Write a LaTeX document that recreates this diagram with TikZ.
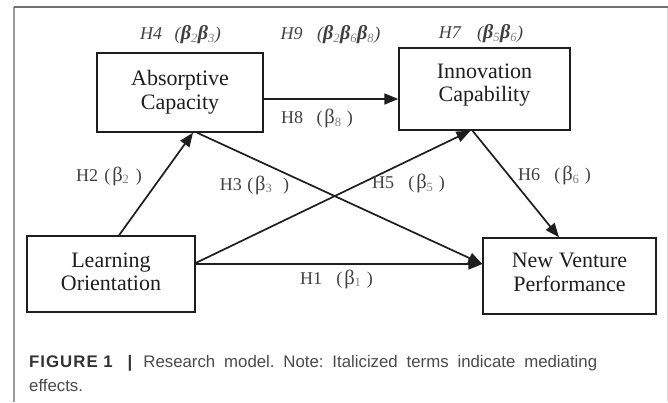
\documentclass[tikz,border=0pt]{standalone}
\usepackage{fontspec}
\setmainfont{Liberation Serif}
\newfontfamily\capfont{Liberation Sans}
\newfontfamily\capbold[LetterSpace=6]{Liberation Sans Bold}
\usetikzlibrary{arrows.meta}
\definecolor{framedark}{HTML}{707070}
\definecolor{frameleft}{HTML}{9A9A9A}
\definecolor{frameright}{HTML}{DDDDDD}
\definecolor{captxt}{HTML}{4A4A4A}
\definecolor{ink}{HTML}{1E1E1E}
\tikzset{
  box/.style={draw=ink, line width=1.4pt, inner sep=0pt},
  boxtext/.style={align=center, font=\fontsize{22}{23.5}\selectfont, text=ink, inner sep=0pt},
  arr/.style={draw=ink, line width=1.7pt, -{Triangle[length=14pt,width=11pt]}},
  lbl/.style={font=\fontsize{18}{20}\selectfont, text=ink!85, inner sep=0pt},
  ilbl/.style={font=\fontsize{18}{20}\selectfont\itshape, text=ink!85, inner sep=0pt},
  captext/.style={font=\capfont\fontsize{16.8}{18}\selectfont, text=captxt, inner sep=0pt, anchor=base west}
}
\newcommand{\sbs}[1]{\textsubscript{\color{ink!55}#1}}
\newcommand{\bt}{{\fontsize{20.5}{20}\selectfont β}}
\newcommand{\bbt}{{\fontsize{20}{20}\selectfont\bfseries β}}
% #1 number, #2 gap before paren, #3 subscript, #4 gap before closing paren
\newcommand{\lab}[4]{H#1\hspace{#2}(\hspace{0.1em}\bt\sbs{#3}\hspace{#4})}
\begin{document}
\begin{tikzpicture}[x=1pt,y=-1pt]
\useasboundingbox (0,0) rectangle (668,402);
\fill[white] (0,0) rectangle (668,402);
% frame
\draw[frameright, line width=1pt] (667,7) -- (667,402);
\draw[frameleft, line width=1.3pt] (14,7) -- (14,402);
\draw[framedark, line width=1.3pt] (14,7) -- (668,7);
% boxes
\node[box, minimum width=166pt, minimum height=79pt] (ac) at (180,92.5) {};
\node[boxtext] (act) at (180,92.3) {Absorptive\\Capacity};
\node[box, minimum width=171pt, minimum height=82pt] (ic) at (484.5,89) {};
\node[boxtext] (ict) at (484.5,85) {Innovation\\Capability};
\node[box, minimum width=168pt, minimum height=76pt] (lo) at (111,274) {};
\node[boxtext] (lot) at (111,271.8) {Learning\\Orientation};
\node[box, minimum width=173pt, minimum height=76pt] (nvp) at (569.5,276) {};
\node[boxtext] (nvpt) at (569.5,272.6) {New Venture\\Performance};
% arrows
\draw[arr] ([yshift=-6.5pt]ac.east) -- ([yshift=-10pt]ic.west);
\draw[arr] ([xshift=8pt]lo.north) -- ([xshift=13pt]ac.south);
\draw[arr] ([xshift=17pt]ac.south) -- ([yshift=12pt]nvp.west);
\draw[arr] ([yshift=11pt]lo.east) -- ([xshift=-14pt]ic.south);
\draw[arr] ([yshift=10pt]lo.east) -- ([yshift=12pt]nvp.west);
\draw[arr] ([xshift=-12pt]ic.south) -- ([xshift=-10.5pt]nvp.north);
% labels
\node[ilbl] (h4) at (180.5,34.5) {H4\hspace{0.7em}(\bbt\sbs{2}\bbt\sbs{3})};
\node[ilbl] (h9) at (330.5,34.5) {H9\hspace{0.8em}(\bbt\sbs{2}\bbt\sbs{6}\bbt\sbs{8})};
\node[ilbl] (h7) at (481,34) {H7\hspace{0.9em}(\bbt\sbs{5}\bbt\sbs{6})};
\node[lbl] (h8) at (317,118.5) {\lab{8}{0.75em}{8}{0.3em}};
\node[lbl] (h2) at (109,176) {\lab{2}{0.35em}{2}{0.35em}};
\node[lbl] (h3) at (254.5,185) {\lab{3}{0.3em}{3}{0.6em}};
\node[lbl] (h5) at (408.5,183.5) {\lab{5}{0.8em}{5}{0.3em}};
\node[lbl] (h6) at (554.5,175.5) {\lab{6}{0.8em}{6}{0.3em}};
\node[lbl] (h1) at (336.5,279) {\lab{1}{0.8em}{1}{0.3em}};
% caption (justified first line)
\node[captext] (cap1) at (29,367) {\hbox to 568pt{{\capbold\color{black!80}FIGURE\ 1}\hspace{15pt}{\capbold\color{black!80}|}\hspace{11pt}Research\hfill model.\hfill Note:\hfill Italicized\hfill terms\hfill indicate\hfill mediating}};
\node[captext] (cap2) at (29,391) {effects.};
\end{tikzpicture}
\end{document}
